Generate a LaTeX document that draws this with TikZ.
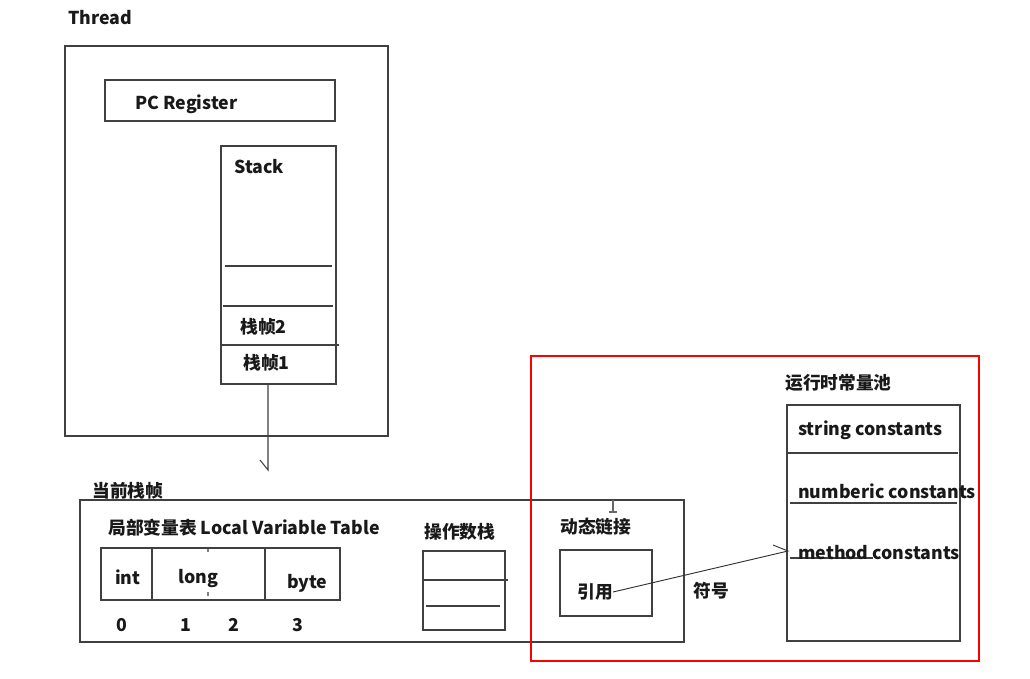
\documentclass[tikz,border=0pt]{standalone}
\usepackage{fontspec}
\setmainfont{Noto Sans CJK SC}
\usetikzlibrary{fit,calc}
\tikzset{
  box/.style={draw=black!75, line width=0.8pt, inner sep=0pt},
  sep/.style={draw=black!75, line width=0.8pt},
  lbl/.style={anchor=west, inner sep=0pt, font=\fontsize{13.3pt}{15pt}\selectfont\bfseries, text=black!90},
  redbox/.style={draw=red, line width=1.6pt, inner sep=0pt},
}
\begin{document}
\begin{tikzpicture}[x=0.75pt,y=-0.75pt]
\fill[white] (0,0) rectangle (1030,678);
\useasboundingbox (0,0) rectangle (1030,678);
% Thread
\node[lbl] (tthread) at (68,18) {Thread};
\node[box, fit={(65,46) (388,436)}] (thread) {};
\node[box, fit={(105,80) (335,121)}] (pc) {};
\node[lbl] (tpc) at (135,104) {PC Register};
\node[box, fit={(221,146) (336,384)}] (stack) {};
\node[lbl] (tstack) at (234,167) {Stack};
\draw[sep] (225,266) -- (332,266);
\draw[sep] (223,306) -- (333,306);
\draw[sep] (221,345) -- (339,345);
\node[lbl] (tf2) at (240,327) {栈帧2};
\node[lbl] (tf1) at (243,363) {栈帧1};
\coordinate (atip) at (268,470);
\draw[sep] (stack.south -| atip) -- (atip) -- ++(-8,-10);
% current frame
\node[lbl] (tcur) at (92,491) {当前栈帧};
\node[box, fit={(80,500) (684,642)}] (cur) {};
\node[lbl] (tlvt) at (108,528) {局部变量表 Local Variable Table};
\node[box, fit={(101,548) (340,600)}] (lvt) {};
\draw[sep] (152,548) -- (152,601);
\draw[sep] (265,548) -- (265,601);
\draw[black!50, line width=0.8pt] (208,549) -- (208,552);
\draw[black!50, line width=0.8pt] (208,592) -- (208,596);
\node[lbl] (tint) at (115,577) {int};
\node[lbl] (tlong) at (178,579) {long};
\node[lbl] (tbyte) at (287,583) {byte};
\node[lbl] (i0) at (116,625) {0};
\node[lbl] (i1) at (180,625) {1};
\node[lbl] (i2) at (228,625) {2};
\node[lbl] (i3) at (292,625) {3};
\node[lbl] (tops) at (424,532) {操作数栈};
\node[box, fit={(423,551) (505,630)}] (ops) {};
\draw[sep] (423,580) -- (508,580);
\draw[sep] (426,606) -- (500,606);
% dynamic link
\node[lbl] (tdyn) at (560,527) {动态链接};
\draw[black!60, line width=0.8pt] (613,500) -- (613,512);
\draw[black!60, line width=0.8pt] (609,512) -- (617,512);
\node[box, fit={(560,550) (652,616)}] (ref) {};
\node[lbl] (tref) at (577,592) {引用};
\node[lbl] (tsym) at (693,591) {符号};
% constant pool
\node[lbl] (tpool) at (785,383) {运行时常量池};
\node[box, fit={(787,405) (960,641)}] (pool) {};
\draw[sep] (787,453) -- (958,453);
\draw[sep] (790,503) -- (957,503);
\draw[sep] (790,558) -- (873,558);
\node[lbl] (tstr) at (798,430) {string constants};
\node[lbl] (tnum) at (798,491) {numberic constants};
\node[lbl] (tmeth) at (798,553) {method constants};
\coordinate (mtip) at (788,551);
\draw[black!80, line width=0.7pt] (tref.east) -- (mtip) -- ++(-15,-6);
% red highlight
\node[redbox, fit={(531,356) (979,661)}] (hl) {};
\end{tikzpicture}
\end{document}
